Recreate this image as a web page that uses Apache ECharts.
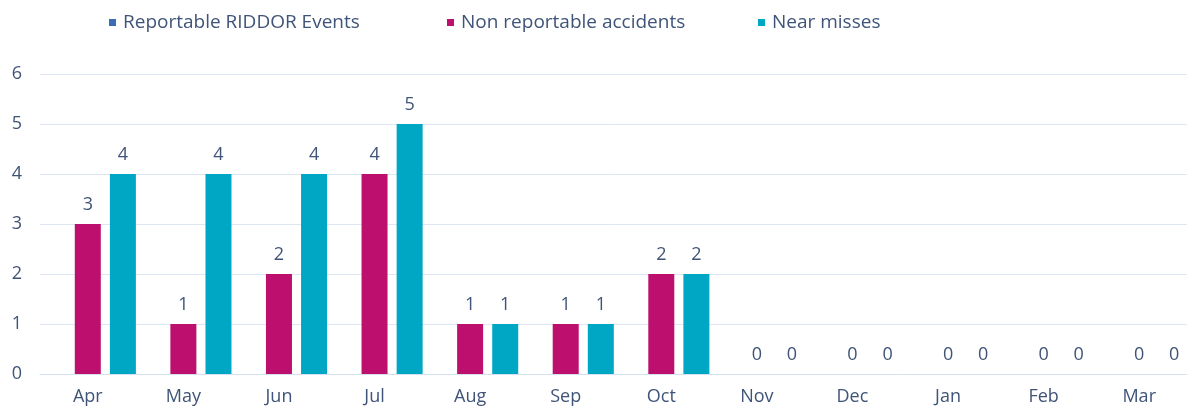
<!DOCTYPE html>
<html>
<head>
<meta charset="utf-8">
<script src="https://cdn.jsdelivr.net/npm/echarts@6/dist/echarts.min.js"></script>
<style>
  html, body { margin: 0; padding: 0; background: #fff; }
  #chart { width: 1187px; height: 412px; }
</style>
</head>
<body>
<div id="chart"></div>
<script>
// data
const months = ['Apr', 'May', 'Jun', 'Jul', 'Aug', 'Sep', 'Oct', 'Nov', 'Dec', 'Jan', 'Feb', 'Mar'];
const riddor = [0, 0, 0, 0, 0, 0, 0, 0, 0, 0, 0, 0];
const nonReportable = [3, 1, 2, 4, 1, 1, 2, 0, 0, 0, 0, 0];
const nearMisses = [4, 4, 4, 5, 1, 1, 2, 0, 0, 0, 0, 0];

const textColor = '#3f5478';
const font = '"Open Sans", Arial, sans-serif';

const chart = echarts.init(document.getElementById('chart'));

const legendBase = {
  top: 13,
  padding: 0,
  icon: 'rect',
  itemWidth: 7,
  itemHeight: 7,
  itemGap: 0,
  textStyle: { color: textColor, fontSize: 19, fontFamily: font, padding: [0, 0, 0, 2] }
};

const option = {
  animation: false,
  legend: [
    Object.assign({}, legendBase, { left: 109, data: ['Reportable RIDDOR Events'] }),
    Object.assign({}, legendBase, { left: 447, data: ['Non reportable accidents'] }),
    Object.assign({}, legendBase, { left: 758, data: ['Near misses'] })
  ],
  grid: { left: 40, right: 0, top: 74, bottom: 38 },
  xAxis: {
    type: 'category',
    data: months,
    axisTick: { show: false },
    axisLine: { lineStyle: { color: '#d6e1f0', width: 1 } },
    axisLabel: { color: textColor, fontSize: 18, fontFamily: font, margin: 14 }
  },
  yAxis: {
    type: 'value',
    min: 0,
    max: 6,
    interval: 1,
    axisLabel: { color: textColor, fontSize: 18, fontFamily: font, margin: 18 },
    splitLine: { lineStyle: { color: '#dde7f4', width: 1 } },
    axisLine: { show: false },
    axisTick: { show: false }
  },
  series: [
    {
      name: 'Reportable RIDDOR Events',
      type: 'bar',
      data: riddor,
      barWidth: 26,
      barGap: '35%',
      itemStyle: { color: '#3a6db3' },
      label: { show: false }
    },
    {
      name: 'Non reportable accidents',
      type: 'bar',
      data: nonReportable,
      barWidth: 26,
      barGap: '35%',
      itemStyle: { color: '#bc0f6e' },
      label: { show: true, position: 'top', distance: 10, color: textColor, fontSize: 18, fontFamily: font }
    },
    {
      name: 'Near misses',
      type: 'bar',
      data: nearMisses,
      barWidth: 26,
      barGap: '35%',
      itemStyle: { color: '#00a7c4' },
      label: { show: true, position: 'top', distance: 10, color: textColor, fontSize: 18, fontFamily: font }
    }
  ]
};

chart.setOption(option);
</script>
</body>
</html>
